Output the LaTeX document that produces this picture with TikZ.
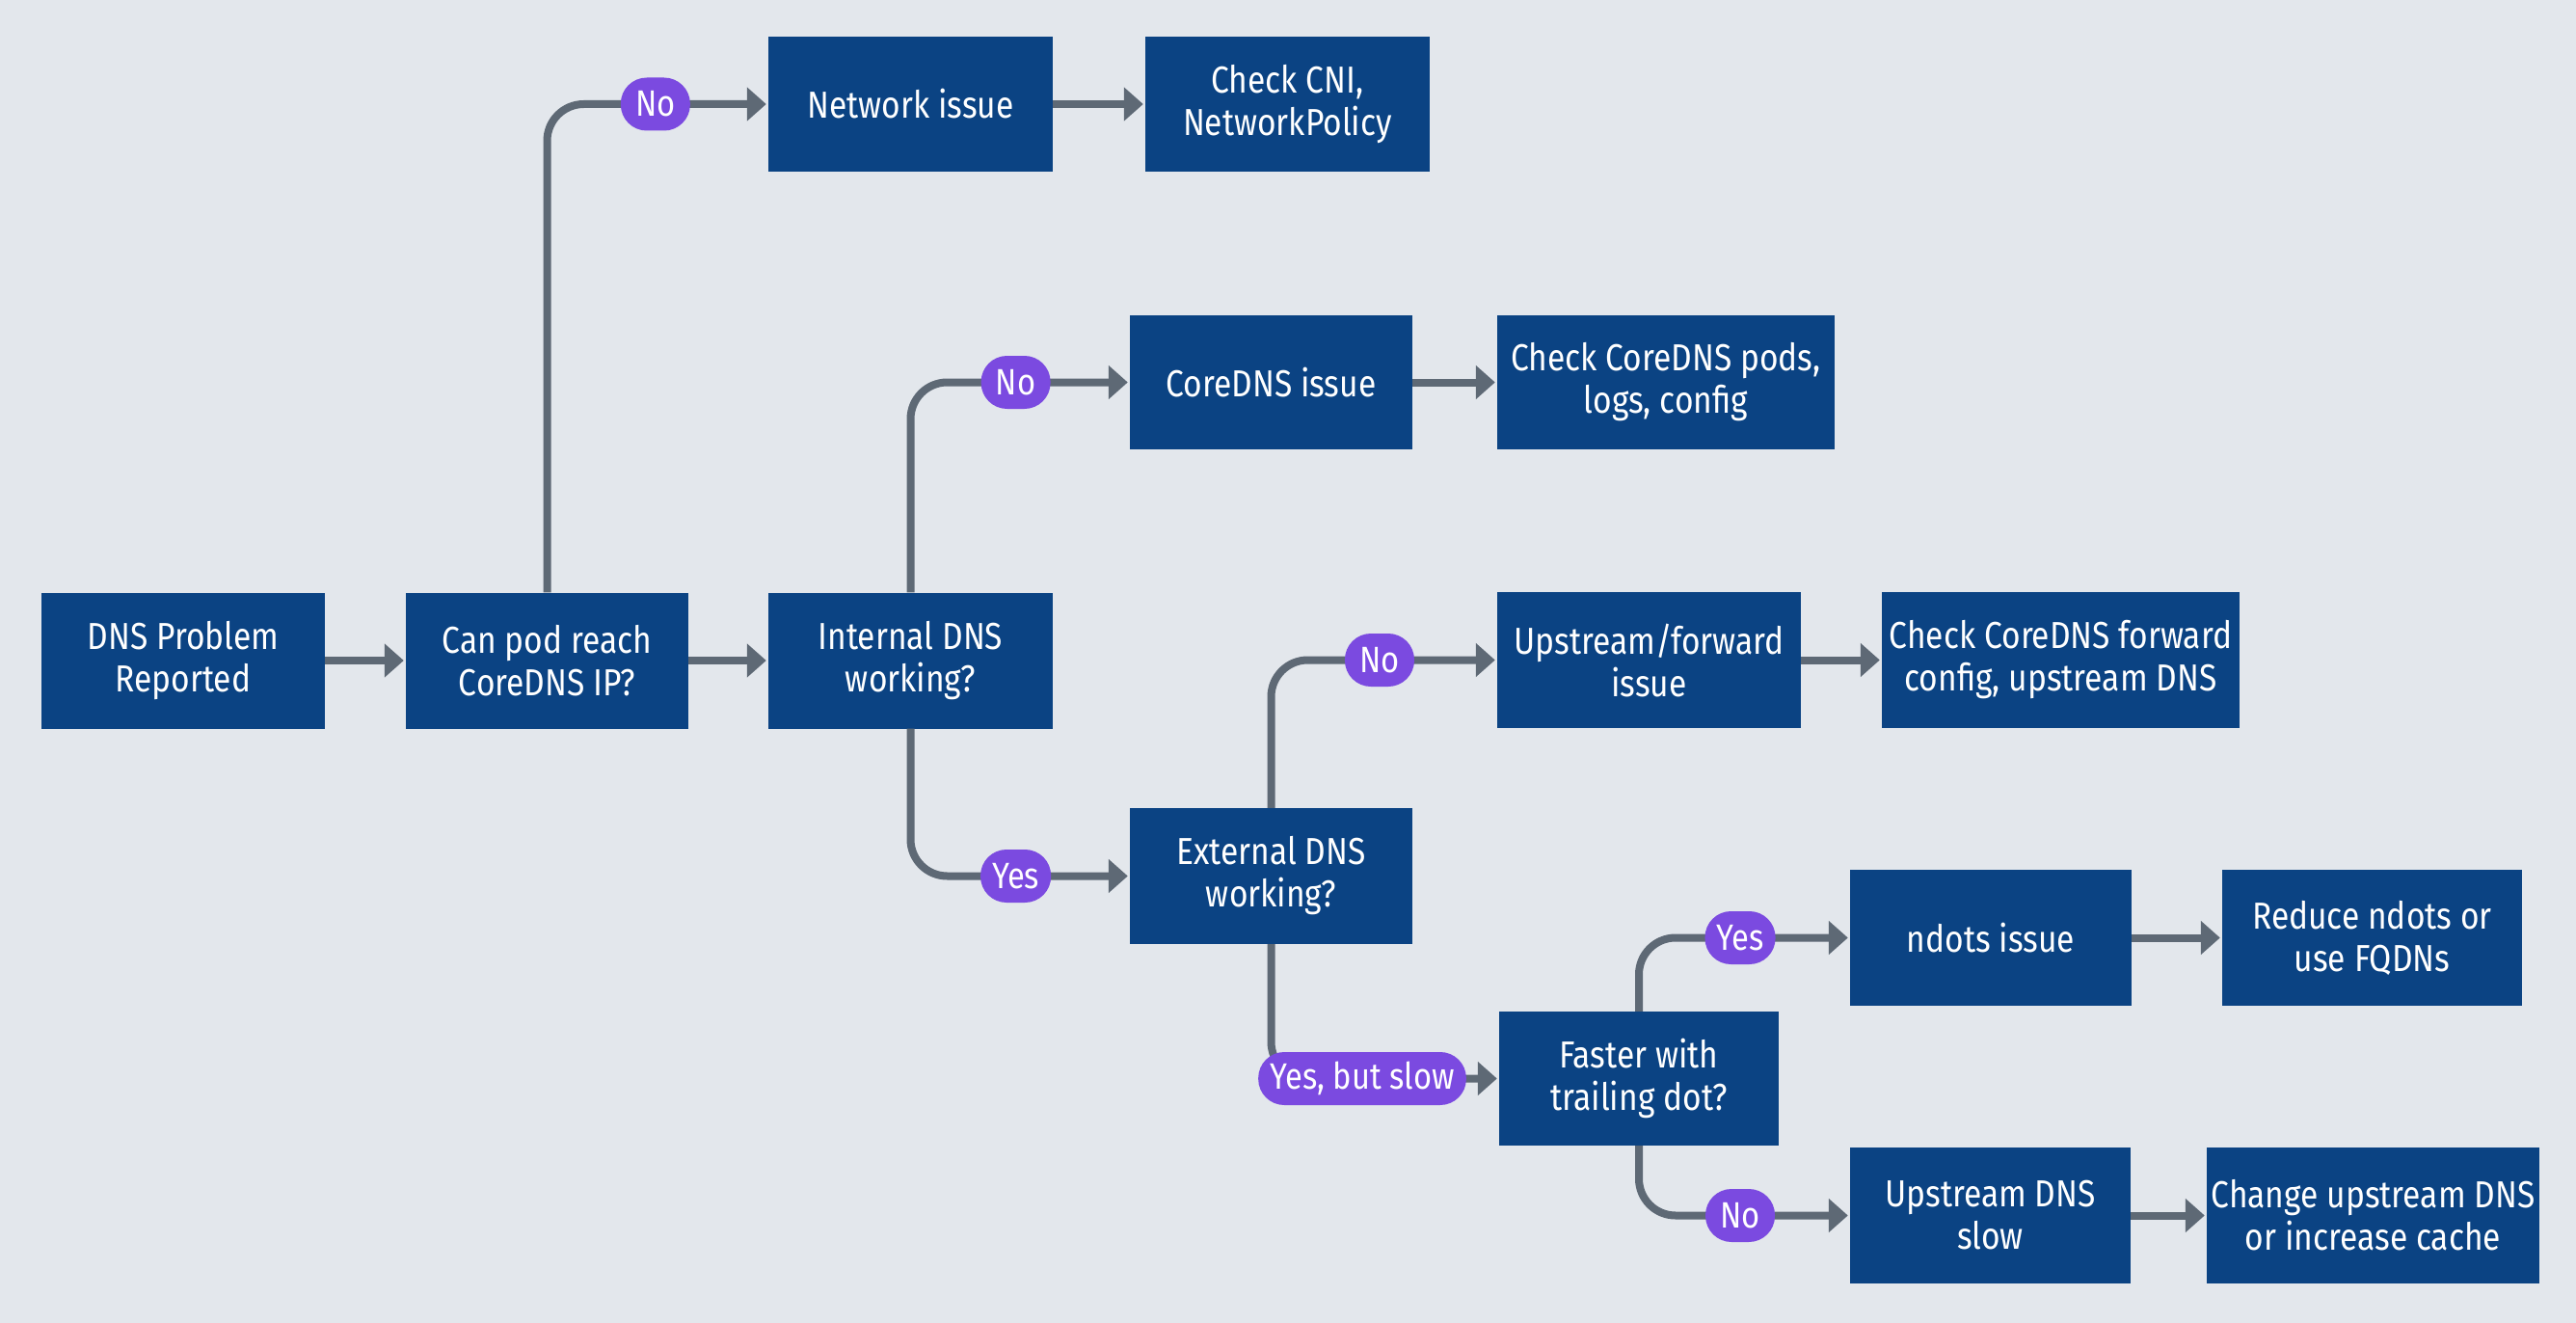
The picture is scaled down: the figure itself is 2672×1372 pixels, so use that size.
\documentclass[tikz,border=0pt]{standalone}
\usepackage{fontspec}
\setmainfont[FakeStretch=0.86]{Fira Sans}
\usetikzlibrary{arrows.meta}
\definecolor{bg}{HTML}{E3E7EC}
\definecolor{boxblue}{HTML}{0B4383}
\definecolor{pillpurple}{HTML}{7B4AE0}
\definecolor{linegray}{HTML}{5E6975}
\tikzset{
  box/.style={rectangle, fill=boxblue, text=white, align=center, inner sep=0pt,
    minimum height=141pt, font=\fontsize{39}{44}\selectfont},
  pill/.style={rectangle, fill=pillpurple, text=white, rounded corners=27pt,
    minimum height=55pt, minimum width=72pt, inner xsep=12pt, inner ysep=0pt,
    font=\fontsize{38}{40}\selectfont},
  conn/.style={draw=linegray, line width=8pt, rounded corners=38pt,
    -{Triangle[length=20pt,width=34pt]}, shorten >=2pt},
}
\begin{document}
\begin{tikzpicture}[x=1pt,y=-1pt]
\fill[bg] (0,0) rectangle (2672,1372);
\useasboundingbox (0,0) rectangle (2672,1372);

\node[box, minimum width=294pt] (A) at (190,685) {DNS Problem\\Reported};
\node[box, minimum width=293pt] (B) at (567.5,685) {Can pod reach\\CoreDNS IP?};
\node[box, minimum width=295pt] (C) at (944.5,685) {Internal DNS\\working?};
\node[box, minimum width=295pt, minimum height=140pt] (D) at (944.5,108) {Network issue};
\node[box, minimum width=295pt, minimum height=140pt] (E) at (1335.5,108) {Check CNI,\\NetworkPolicy};
\node[box, minimum width=293pt, minimum height=139pt] (F) at (1318.5,396.5) {CoreDNS issue};
\node[box, minimum width=350pt, minimum height=139pt] (G) at (1728,396.5) {Check CoreDNS pods,\\logs, config};
\node[box, minimum width=315pt] (H) at (1710.5,684.5) {Upstream/forward\\issue};
\node[box, minimum width=371pt] (I) at (2137.5,684.5) {Check CoreDNS forward\\config, upstream DNS};
\node[box, minimum width=293pt] (J) at (1318.5,908.5) {External DNS\\working?};
\node[box, minimum width=292pt] (K) at (2065,972.5) {ndots issue};
\node[box, minimum width=311pt] (L) at (2460.5,972.5) {Reduce ndots or\\use FQDNs};
\node[box, minimum width=290pt, minimum height=139pt] (M) at (1700,1118.5) {Faster with\\trailing dot?};
\node[box, minimum width=291pt] (N) at (2064.5,1260.5) {Upstream DNS\\slow};
\node[box, minimum width=345pt] (O) at (2461.5,1260.5) {Change upstream DNS\\or increase cache};

\draw[conn] (A) -- (B);
\draw[conn] (B) -- (C);
\draw[conn] (D) -- (E);
\draw[conn] (F) -- (G);
\draw[conn] (H) -- (I);
\draw[conn] (K) -- (L);
\draw[conn] (N) -- (O);

\draw[conn] (B.north) |- (D.west) node[pill, pos=0.745] {No};
\draw[conn] (C.north) |- (F.west) node[pill, pos=0.74] {No};
\draw[conn] (C.south) |- (J.west) node[pill, pos=0.74] {Yes};
\draw[conn] (J.north) |- (H.west) node[pill, pos=0.74] {No};
\draw[conn] (J.south) |- (M.west) node[pill, pos=0.70] {Yes, but slow};
\draw[conn] (M.north) |- (K.west) node[pill, pos=0.74] {Yes};
\draw[conn] (M.south) |- (N.west) node[pill, pos=0.74] {No};
\end{tikzpicture}
\end{document}
